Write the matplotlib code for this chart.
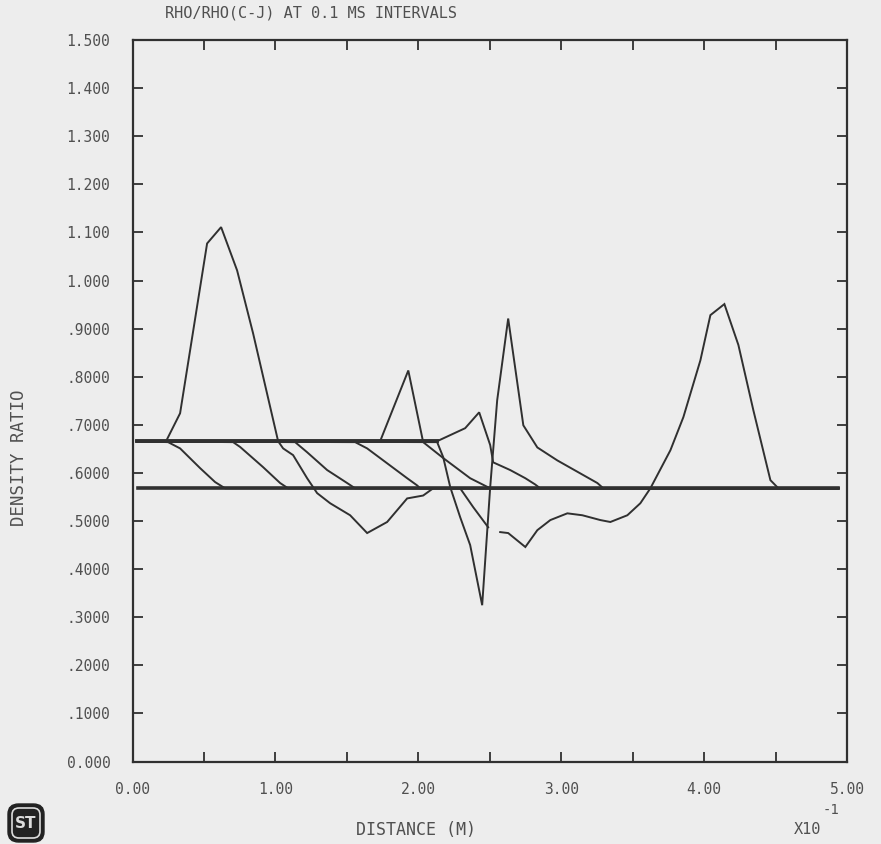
import numpy as np
import matplotlib
matplotlib.use("Agg")
import matplotlib.pyplot as plt
from matplotlib.patches import FancyBboxPatch
from matplotlib.ticker import MultipleLocator, FixedLocator

NaN = np.nan

# ── density-ratio profiles (x in units of 1e-1 m) ────────────────────────────
UP, LO = 0.666, 0.568

peak_x = [0.03, 0.235, 0.333, 0.522, 0.62, 0.732, 0.844, 1.019, 1.054, 1.124,
          1.222, 1.292, 1.383, 1.523, 1.642, 1.782, 1.922, 2.034, 2.104, 2.293,
          2.384, 2.489, NaN, 2.573, 2.629, 2.749, 2.833, 2.924, 3.043, 3.148,
          3.274, 3.344, 3.463, 3.554, 3.624, 3.764, 3.855, 3.974, 4.044, 4.142,
          4.24, 4.345, 4.464, 4.52, 4.94]
peak_y = [UP, UP, 0.724, 1.077, 1.111, 1.021, 0.890, 0.666, 0.651, 0.637,
          0.589, 0.558, 0.537, 0.512, 0.475, 0.498, 0.547, 0.553, LO, LO,
          0.529, 0.487, NaN, 0.477, 0.475, 0.446, 0.481, 0.502, 0.516, 0.512,
          0.502, 0.498, 0.512, 0.537, LO, 0.647, 0.716, 0.834, 0.928, 0.951,
          0.866, 0.730, 0.585, LO, LO]

d1_x = [0.03, 0.249, 0.333, 0.473, 0.578, 0.648, 4.94]
d1_y = [UP, 0.664, 0.651, 0.610, 0.581, LO, LO]
d2_x = [0.03, 0.704, 0.753, 0.914, 1.033, 1.089, 4.94]
d2_y = [UP, 0.664, 0.654, 0.612, 0.579, LO, LO]
d3_x = [0.03, 1.138, 1.222, 1.362, 1.502, 1.558, 4.94]
d3_y = [UP, 0.664, 0.643, 0.606, 0.579, LO, LO]
d4_x = [0.03, 1.558, 1.642, 1.782, 1.922, 1.992, 2.013, 4.94]
d4_y = [UP, 0.664, 0.651, 0.620, 0.589, 0.574, LO, LO]
d5_x = [0.03, 1.733, 1.93, 2.034, 2.174, 2.363, 2.503, 4.94]
d5_y = [UP, UP, 0.813, 0.664, 0.631, 0.589, LO, LO]
d6_x = [0.03, 2.132, 2.328, 2.426, 2.503, 2.524, 2.643, 2.749, 2.818, 2.853, 4.94]
d6_y = [UP, UP, 0.693, 0.726, 0.658, 0.622, 0.606, 0.589, 0.576, LO, LO]
d7_x = [0.03, 2.132, 2.174, 2.224, 2.293, 2.363, 2.447, 2.503, 2.552, 2.629,
        2.735, 2.833, 2.973, 3.253, 3.295, 4.94]
d7_y = [UP, 0.664, 0.633, 0.570, 0.508, 0.450, 0.325, 0.570, 0.751, 0.921,
        0.699, 0.653, 0.626, 0.579, LO, LO]

# ambient levels (initial and final state)
init_x = [0.03, 2.13]
init_y = [UP, UP]
base_x = [0.04, 4.94]
base_y = [LO, LO]

profiles = [(peak_x, peak_y), (d1_x, d1_y), (d2_x, d2_y), (d3_x, d3_y),
            (d4_x, d4_y), (d5_x, d5_y), (d6_x, d6_y), (d7_x, d7_y)]

y_ticks = [0.0, 0.1, 0.2, 0.3, 0.4, 0.5, 0.6, 0.7, 0.8, 0.9,
           1.0, 1.1, 1.2, 1.3, 1.4, 1.5]
y_tick_labels = ["0.000", ".1000", ".2000", ".3000", ".4000", ".5000", ".6000",
                 ".7000", ".8000", ".9000", "1.000", "1.100", "1.200", "1.300",
                 "1.400", "1.500"]
x_ticks = [0, 1, 2, 3, 4, 5]
x_tick_labels = ["0.00", "1.00", "2.00", "3.00", "4.00", "5.00"]

BG = "#ededed"
INK = "#303030"
TXT = "#505050"
FONT = "DejaVu Sans Mono"

fig = plt.figure(figsize=(8.81, 8.44), dpi=100, facecolor=BG)
ax = fig.add_axes([0.1504, 0.0977, 0.8110, 0.8549])
ax.set_facecolor(BG)

for xs, ys in profiles:
    ax.plot(xs, ys, color=INK, lw=1.4, solid_joinstyle="miter")
ax.plot(init_x, init_y, color=INK, lw=2.8)
ax.plot(base_x, base_y, color=INK, lw=2.6)

ax.set_xlim(0, 5)
ax.set_ylim(0, 1.5)
ax.xaxis.set_major_locator(FixedLocator(x_ticks))
ax.xaxis.set_minor_locator(MultipleLocator(0.5))
ax.set_xticklabels(x_tick_labels)
ax.yaxis.set_major_locator(FixedLocator(y_ticks))
ax.set_yticklabels(y_tick_labels)

ax.tick_params(which="both", direction="in", top=True, right=True,
               length=7, width=1.3, color=INK)
ax.tick_params(axis="x", which="major", pad=15)
ax.tick_params(axis="y", which="major", pad=16)
for lab in ax.get_xticklabels() + ax.get_yticklabels():
    lab.set_fontfamily(FONT)
    lab.set_fontsize(10.5)
    lab.set_color(TXT)
for sp in ax.spines.values():
    sp.set_linewidth(1.6)
    sp.set_color(INK)

fig.text(165 / 881, 1 - 13 / 844, "RHO/RHO(C-J) AT 0.1 MS INTERVALS",
         family=FONT, fontsize=11, color=TXT, ha="left", va="center")
fig.text(19 / 881, 1 - 458 / 844, "DENSITY RATIO", family=FONT, fontsize=12.5,
         color=TXT, rotation=90, ha="center", va="center")
fig.text(416 / 881, 1 - 830 / 844, "DISTANCE (M)", family=FONT, fontsize=12,
         color=TXT, ha="center", va="center")
fig.text(808 / 881, 1 - 829 / 844, "X10", family=FONT, fontsize=11,
         color=TXT, ha="center", va="center")
fig.text(831 / 881, 1 - 810 / 844, "-1", family=FONT, fontsize=10,
         color=TXT, ha="center", va="center")

# logo in bottom-left corner
logo = FancyBboxPatch((8 / 881, 2 / 844), 36 / 881, 38 / 844,
                      boxstyle="round,pad=0,rounding_size=0.012",
                      transform=fig.transFigure, facecolor="#222222",
                      edgecolor="#222222")
fig.patches.append(logo)
inner = FancyBboxPatch((12 / 881, 6 / 844), 28 / 881, 30 / 844,
                       boxstyle="round,pad=0,rounding_size=0.008",
                       transform=fig.transFigure, facecolor="none",
                       edgecolor="#dddddd", lw=1.2)
fig.patches.append(inner)
fig.text(26 / 881, 21 / 844, "ST", family="DejaVu Sans", fontsize=11,
         fontweight="bold", color="#dddddd", ha="center", va="center")

fig.savefig("out.png", dpi=100, facecolor=BG)
